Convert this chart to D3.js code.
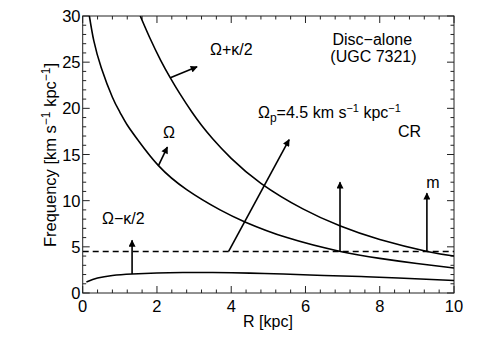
<!DOCTYPE html>
<html>
<head>
<meta charset="utf-8">
<script src="https://cdn.jsdelivr.net/npm/d3@7"></script>
<style>
  body { margin: 0; background: #fff; }
  text { font-family: "Liberation Sans", Arial, Helvetica, sans-serif; fill: #000; }
</style>
</head>
<body>
<svg id="chart" width="485" height="346"></svg>
<script>
// curves: [R (kpc), frequency]
var omega = [[0.18,30],[0.3,27.3],[0.5,24.4],[0.8,21.2],[1.0,19.6],[1.2,18.2],[1.5,16.5],[2.04,13.8],
  [2.8,11.2],[3.7,9.0],[4.37,7.7],[5.5,6.0],[6.94,4.5],[8,3.75],[9,3.19],[10,2.7]];
var omegaPlus = [[1.55,30],[1.8,27.7],[2.1,25.2],[2.36,23.3],[2.62,21.56],[2.94,19.6],[3.2,18.16],[3.5,16.7],
  [4.0,14.58],[4.8,11.88],[5.93,9.11],[6.94,7.25],[8,5.79],[9.28,4.5],[10,4.0]];
var omegaMinus = [[0.1,1.2],[0.4,1.62],[0.8,1.9],[1.33,2.06],[2,2.17],[2.7,2.22],[3.5,2.22],[4.5,2.15],
  [5.4,2.05],[6.5,1.9],[7.5,1.78],[8.5,1.62],[10,1.35]];
var patternSpeed = 4.5;

// arrows: [R0, f0, R1, f1]
var arrows = [[1.33,2.06,1.33,5.7],[2.04,13.8,2.28,15.8],[2.36,23.3,3.08,24.5],
  [3.93,4.5,5.56,16.6],[6.93,4.5,6.93,12.0],[9.27,4.5,9.27,10.8]];

var xTicks = [0,2,4,6,8,10];
var yTicks = [0,5,10,15,20,25,30];

var svg = d3.select("#chart");
var x = d3.scaleLinear().domain([0,10]).range([82.7,454]);
var y = d3.scaleLinear().domain([0,30]).range([293,16]);

svg.append("defs").append("clipPath").attr("id","clip")
  .append("rect").attr("x",x(0)).attr("y",y(30)).attr("width",x(10)-x(0)).attr("height",y(0)-y(30));

svg.select("defs").append("marker").attr("id","head")
  .attr("viewBox","0 0 10 10").attr("refX",9).attr("refY",5)
  .attr("markerWidth",9).attr("markerHeight",7).attr("markerUnits","userSpaceOnUse")
  .attr("orient","auto")
  .append("path").attr("d","M0,0L10,5L0,10z").attr("fill","#000");

// frame + ticks (inward, all four sides)
var g = svg.append("g");
g.append("rect").attr("x",x(0)).attr("y",y(30)).attr("width",x(10)-x(0)).attr("height",y(0)-y(30))
  .attr("fill","none").attr("stroke","#222").attr("stroke-width",1);

var xMinor = d3.range(0,10.01,0.4), yMinor = d3.range(0,30.01,1);
xMinor.forEach(function(v){
  var big = xTicks.some(function(t){ return Math.abs(t-v)<1e-6; });
  var L = big ? 7 : 3.5;
  g.append("line").attr("x1",x(v)).attr("x2",x(v)).attr("y1",y(0)).attr("y2",y(0)-L).attr("stroke","#222");
  g.append("line").attr("x1",x(v)).attr("x2",x(v)).attr("y1",y(30)).attr("y2",y(30)+L).attr("stroke","#222");
});
yMinor.forEach(function(v){
  var big = v % 5 == 0;
  var L = big ? 7 : 3.5;
  g.append("line").attr("y1",y(v)).attr("y2",y(v)).attr("x1",x(0)).attr("x2",x(0)+L).attr("stroke","#222");
  g.append("line").attr("y1",y(v)).attr("y2",y(v)).attr("x1",x(10)).attr("x2",x(10)-L).attr("stroke","#222");
});

g.selectAll(".xl").data(xTicks).enter().append("text")
  .attr("x",function(d){ return x(d); }).attr("y",312)
  .attr("text-anchor","middle").attr("font-size",16.5).text(function(d){ return d; });
g.selectAll(".yl").data(yTicks).enter().append("text")
  .attr("x",80.5).attr("y",function(d){ return y(d)+6; })
  .attr("text-anchor","end").attr("font-size",16.5).text(function(d){ return d; });

svg.append("text").attr("x",268).attr("y",327).attr("text-anchor","middle")
  .attr("font-size",16).text("R [kpc]");

var yl = svg.append("text").attr("transform","translate(56,155) rotate(-90)")
  .attr("text-anchor","middle").attr("font-size",16.5);
yl.append("tspan").text("Frequency [km s");
yl.append("tspan").attr("font-size",12).attr("dy",-6).text("−1");
yl.append("tspan").attr("dy",6).text(" kpc");
yl.append("tspan").attr("font-size",12).attr("dy",-6).text("−1");
yl.append("tspan").attr("dy",6).text("]");

// curves
var line = d3.line().x(function(d){ return x(d[0]); }).y(function(d){ return y(d[1]); })
  .curve(d3.curveNatural);
var plot = svg.append("g").attr("clip-path","url(#clip)");
[omega, omegaPlus, omegaMinus].forEach(function(c){
  plot.append("path").attr("d",line(c)).attr("fill","none").attr("stroke","#000").attr("stroke-width",1.6);
});
plot.append("line").attr("x1",x(0)).attr("x2",x(10)).attr("y1",y(patternSpeed)).attr("y2",y(patternSpeed))
  .attr("stroke","#000").attr("stroke-width",1.5).attr("stroke-dasharray","6,4");

svg.selectAll(".arr").data(arrows).enter().append("line")
  .attr("x1",function(d){ return x(d[0]); }).attr("y1",function(d){ return y(d[1]); })
  .attr("x2",function(d){ return x(d[2]); }).attr("y2",function(d){ return y(d[3]); })
  .attr("stroke","#000").attr("stroke-width",1.6).attr("marker-end","url(#head)");

// labels
function label(R, f, txt, anchor){
  return svg.append("text").attr("x",x(R)).attr("y",y(f)).attr("font-size",16)
    .attr("text-anchor",anchor || "start").text(txt);
}
label(3.43,25.8,"Ω+κ/2");
label(2.16,16.8,"Ω");
label(0.52,7.5,"Ω−κ/2");
label(8.49,16.9,"CR");
label(9.25,11.4,"m");
label(7.8,26.9,"Disc−alone","middle");
label(7.83,25.05,"(UGC 7321)","middle");
var op = label(4.72,18.95,"Ω");
op.append("tspan").attr("font-size",12).attr("dy",4).text("p");
op.append("tspan").attr("dy",-4).text("=4.5 km s");
op.append("tspan").attr("font-size",11).attr("dy",-6).text("−1");
op.append("tspan").attr("dy",6).text(" kpc");
op.append("tspan").attr("font-size",11).attr("dy",-6).text("−1");
</script>
</body>
</html>
